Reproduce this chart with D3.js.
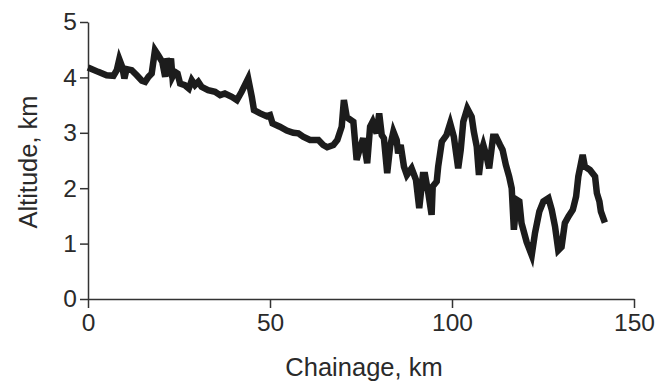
<!DOCTYPE html>
<html lang="en">
<head>
    <meta charset="UTF-8">
    <title>Altitude profile</title>
    <script src="https://d3js.org/d3.v7.min.js"></script>
    <style>
        body { margin: 0; background: #fff; }
        svg text { font-family: "Liberation Sans", Arial, sans-serif; fill: #2a2a2a; }
    </style>
</head>
<body>
<div id="chart"></div>
<script>
    // chainage (km) and altitude (km)
    const chainage = [0, 2.8, 5.1, 7.0, 7.9, 8.6, 9.4, 10.0, 10.6, 12.0, 13.4, 14.8, 15.7, 16.6, 17.5, 18.4, 19.3, 20.4, 21.2, 21.6,
        22.3, 22.8, 23.2, 23.9, 24.6, 25.3, 26.6, 27.7, 28.5, 29.4, 30.3, 31.2, 33.0, 34.9, 36.3, 37.6, 39.5, 40.9, 42.2, 44.0,
        45.0, 45.6, 47.3, 49.1, 50.0, 50.7, 52.7, 54.6, 56.4, 57.8, 59.1, 61.0, 63.3, 64.6, 65.7, 67.4, 68.5, 69.7, 70.3, 71.1,
        72.9, 73.8, 74.7, 75.6, 76.7, 77.5, 78.2, 79.3, 80.0, 80.7, 81.3, 82.2, 83.0, 83.9, 84.8, 85.2, 85.9, 86.8, 87.6, 88.9,
        90.1, 91.0, 92.0, 92.6, 93.5, 94.4, 94.7, 95.8, 96.2, 97.2, 98.5, 99.5, 100.5, 101.7, 102.4, 103.1, 104.2, 105.4, 106.0, 106.8,
        107.4, 108.2, 108.6, 109.5, 110.2, 111.3, 112.1, 113.2, 113.9, 114.8, 115.7, 116.4, 117.0, 117.8, 118.5, 119.1, 120.5, 121.9, 122.8, 124.0,
        125.1, 126.5, 127.4, 128.3, 129.2, 130.1, 131.0, 132.0, 133.2, 134.1, 134.7, 135.9, 136.5, 137.9, 139.3, 139.8, 140.5, 140.9, 142.0];
    const altitude = [4.18, 4.10, 4.04, 4.03, 4.13, 4.33, 4.19, 3.98, 4.15, 4.13, 4.04, 3.94, 3.92, 4.01, 4.07, 4.49, 4.40, 4.28, 4.01, 4.34,
        4.19, 4.34, 4.01, 4.10, 4.07, 3.89, 3.86, 3.80, 3.95, 3.86, 3.92, 3.83, 3.77, 3.74, 3.68, 3.71, 3.65, 3.59, 3.74, 3.98,
        3.65, 3.41, 3.35, 3.30, 3.32, 3.17, 3.11, 3.04, 3.00, 2.99, 2.93, 2.87, 2.87, 2.78, 2.74, 2.78, 2.87, 3.11, 3.59, 3.28,
        3.20, 2.51, 2.72, 2.90, 2.45, 3.11, 3.20, 2.99, 3.35, 2.96, 2.90, 2.27, 2.75, 3.02, 2.87, 2.63, 2.78, 2.39, 2.24, 2.36,
        2.15, 1.64, 2.24, 2.24, 1.91, 1.52, 2.03, 2.12, 2.39, 2.84, 2.96, 3.17, 2.93, 2.36, 2.69, 3.20, 3.44, 3.29, 3.02, 2.75,
        2.24, 2.69, 2.78, 2.57, 2.36, 2.93, 2.93, 2.78, 2.69, 2.42, 2.21, 2.00, 1.25, 1.79, 1.76, 1.37, 1.03, 0.79, 1.19, 1.58,
        1.76, 1.82, 1.61, 1.31, 0.88, 0.94, 1.37, 1.49, 1.61, 1.85, 2.21, 2.60, 2.39, 2.33, 2.21, 1.91, 1.76, 1.58, 1.38];
    const xTicks = [0, 50, 100, 150];
    const yTicks = [0, 1, 2, 3, 4, 5];

    const width = 669, height = 381;
    const margin = { top: 22, right: 35, bottom: 82, left: 88 };

    const svg = d3.select('#chart').append('svg')
        .attr('width', width)
        .attr('height', height);

    const x = d3.scaleLinear().domain([0, 150]).range([margin.left, 634]);
    const y = d3.scaleLinear().domain([0, 5]).range([height - margin.bottom, margin.top]);

    // axes
    const xAxis = svg.append('g')
        .attr('transform', `translate(0,${y(0)})`)
        .call(d3.axisBottom(x).tickValues(xTicks).tickFormat(d3.format('d'))
            .tickSize(9).tickPadding(6).tickSizeOuter(0));
    const yAxis = svg.append('g')
        .attr('transform', `translate(${x(0)},0)`)
        .call(d3.axisLeft(y).tickValues(yTicks).tickFormat(d3.format('d'))
            .tickSize(8).tickPadding(3).tickSizeOuter(0));

    [xAxis, yAxis].forEach(g => {
        g.selectAll('path, line').attr('stroke', '#333').attr('stroke-width', 1.5);
        g.selectAll('text').style('font-size', '24.5px').attr('fill', '#2a2a2a');
    });

    // profile line
    const pts = chainage.map((c, i) => [c, altitude[i]]);
    svg.append('path')
        .datum(pts)
        .attr('fill', 'none')
        .attr('stroke', '#1c1c1c')
        .attr('stroke-width', 6.5)
        .attr('stroke-linejoin', 'miter')
        .attr('d', d3.line().x(d => x(d[0])).y(d => y(d[1])));

    // axis titles
    svg.append('text')
        .attr('x', 364)
        .attr('y', 376)
        .attr('text-anchor', 'middle')
        .style('font-size', '25.5px')
        .text('Chainage, km');

    svg.append('text')
        .attr('transform', `translate(37,162) rotate(-90)`)
        .attr('text-anchor', 'middle')
        .style('font-size', '25.5px')
        .text('Altitude, km');
</script>
</body>
</html>
